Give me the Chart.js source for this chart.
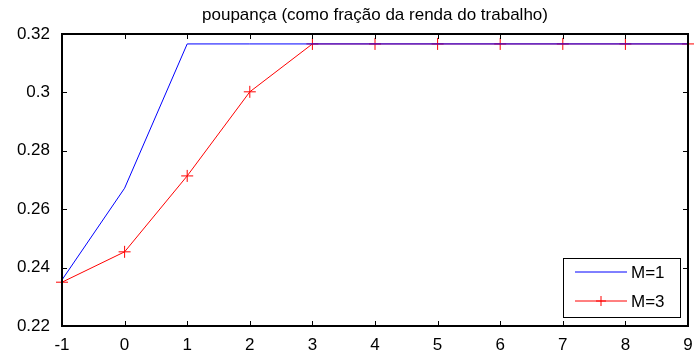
<!DOCTYPE html>
<html>
<head>
<meta charset="utf-8">
<script src="https://cdn.jsdelivr.net/npm/chart.js@4/dist/chart.umd.min.js"></script>
<style>
  html, body { margin: 0; padding: 0; background: #fff; }
  #wrap { width: 695px; height: 355px; }
</style>
</head>
<body>
<div id="wrap"><canvas id="chart"></canvas></div>
<script>
var periods = [-1, 0, 1, 2, 3, 4, 5, 6, 7, 8, 9];
var m1Values = [0.2358, 0.2672, 0.3166, 0.3166, 0.3166, 0.3166, 0.3166, 0.3166, 0.3166, 0.3166, 0.3166];
var m3Values = [0.2350, 0.2454, 0.2714, 0.3002, 0.3166, 0.3166, 0.3166, 0.3166, 0.3166, 0.3166, 0.3166];
var seriesLabels = ["M=1", "M=3"];
var xTicks = [-1, 0, 1, 2, 3, 4, 5, 6, 7, 8, 9];
var yTicks = [0.22, 0.24, 0.26, 0.28, 0.3, 0.32];
var chartTitle = "poupança (como fração da renda do trabalho)";

var font = "Liberation Sans, Arial, sans-serif";

function toPoints(xs, ys) {
    return xs.map(function(x, i) { return {x: x, y: ys[i]}; });
}

// matlab-ish frame: box, inward ticks, title and legend inside the axes
var matlabFrame = {
    id: "matlabFrame",
    afterDraw: function(chart) {
        var ctx = chart.ctx;
        var a = chart.chartArea;
        var xs = chart.scales.x, ys = chart.scales.y;
        ctx.save();
        ctx.strokeStyle = "#000";
        ctx.lineWidth = 1;
        ctx.beginPath();
        xTicks.forEach(function(t) {
            var px = Math.round(xs.getPixelForValue(t)) + 0.5;
            ctx.moveTo(px, a.bottom); ctx.lineTo(px, a.bottom - 5);
            ctx.moveTo(px, a.top); ctx.lineTo(px, a.top + 5);
        });
        yTicks.forEach(function(t) {
            var py = Math.round(ys.getPixelForValue(t)) + 0.5;
            ctx.moveTo(a.left, py); ctx.lineTo(a.left + 5, py);
            ctx.moveTo(a.right, py); ctx.lineTo(a.right - 5, py);
        });
        ctx.stroke();
        ctx.lineWidth = 2;
        ctx.strokeRect(a.left, a.top, a.right - a.left, a.bottom - a.top);

        ctx.fillStyle = "#000";
        ctx.font = "17px " + font;
        ctx.textAlign = "center";
        ctx.textBaseline = "middle";
        ctx.fillText(chartTitle, (a.left + a.right) / 2, 15);

        // legend
        var lx = 563, ly = 258, lw = 117, lh = 59;
        ctx.fillStyle = "#fff";
        ctx.fillRect(lx, ly, lw, lh);
        ctx.lineWidth = 1;
        ctx.strokeStyle = "#000";
        ctx.strokeRect(lx + 0.5, ly + 0.5, lw, lh);
        chart.data.datasets.forEach(function(ds, i) {
            var yy = ly + 14 + i * 29;
            ctx.strokeStyle = ds.borderColor;
            ctx.beginPath();
            ctx.moveTo(lx + 12, yy); ctx.lineTo(lx + 64, yy);
            ctx.stroke();
            if (ds.pointRadius > 0) {
                ctx.beginPath();
                ctx.moveTo(lx + 38, yy - 5); ctx.lineTo(lx + 38, yy + 5);
                ctx.moveTo(lx + 33, yy); ctx.lineTo(lx + 43, yy);
                ctx.stroke();
            }
            ctx.fillStyle = "#000";
            ctx.font = "17px " + font;
            ctx.textAlign = "left";
            ctx.fillText(ds.label, lx + 68, yy + 1);
        });
        ctx.restore();
    }
};

new Chart(document.getElementById("chart"), {
    type: "line",
    data: {
        datasets: [
            {
                label: seriesLabels[0],
                data: toPoints(periods, m1Values),
                borderColor: "#0000ff",
                borderWidth: 1,
                pointRadius: 0,
                tension: 0,
                clip: false
            },
            {
                label: seriesLabels[1],
                data: toPoints(periods, m3Values),
                borderColor: "#ff0000",
                borderWidth: 1,
                pointStyle: "cross",
                pointRadius: 6,
                pointBorderWidth: 1,
                pointBorderColor: "#ff0000",
                tension: 0,
                clip: false
            }
        ]
    },
    options: {
        responsive: true,
        maintainAspectRatio: false,
        animation: false,
        events: [],
        layout: { padding: { top: 34, right: 6, left: 0, bottom: 0 } },
        plugins: {
            legend: { display: false },
            title: { display: false },
            tooltip: { enabled: false }
        },
        scales: {
            x: {
                type: "linear",
                min: -1,
                max: 9,
                afterFit: function(s) { s.height = 29; },
                afterBuildTicks: function(s) { s.ticks = xTicks.map(function(v) { return {value: v}; }); },
                grid: { display: false },
                border: { display: false },
                ticks: { color: "#000", font: { family: font, size: 17 }, padding: 1, maxRotation: 0 }
            },
            y: {
                min: 0.22,
                max: 0.32,
                afterFit: function(s) { s.width = 62; },
                afterBuildTicks: function(s) { s.ticks = yTicks.map(function(v) { return {value: v}; }); },
                grid: { display: false },
                border: { display: false },
                ticks: {
                    color: "#000",
                    font: { family: font, size: 17 },
                    padding: 4,
                    callback: function(v) { return String(Math.round(v * 100) / 100); }
                }
            }
        }
    },
    plugins: [matlabFrame]
});
</script>
</body>
</html>
